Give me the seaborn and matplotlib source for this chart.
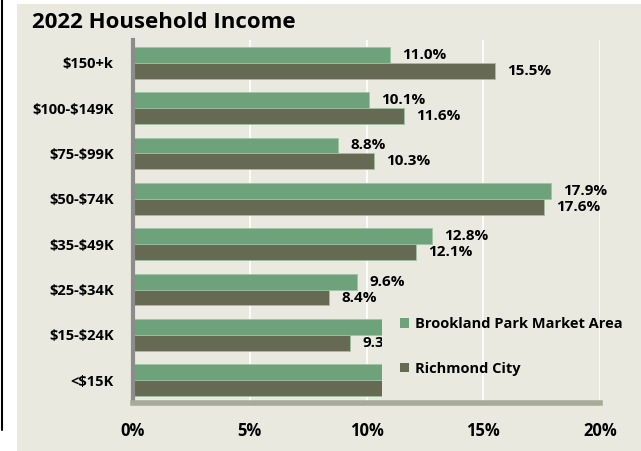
import pandas as pd
import matplotlib
matplotlib.use("Agg")
import matplotlib.pyplot as plt
import seaborn as sns
from matplotlib.patches import Rectangle, Patch
from matplotlib.lines import Line2D
from matplotlib.transforms import Bbox, TransformedBbox

# Data
categories = ["$150+k", "$100-$149K", "$75-$99K", "$50-$74K",
              "$35-$49K", "$25-$34K", "$15-$24K", "<$15K"]
brookland = [11.0, 10.1, 8.8, 17.9, 12.8, 9.6, 12.4, 17.4]   # last two hidden behind legend
richmond = [15.5, 11.6, 10.3, 17.6, 12.1, 8.4, 9.3, 15.2]     # last one hidden behind legend
series = ["Brookland Park Market Area", "Richmond City"]
xticks = [0, 5, 10, 15, 20]
xtick_labels = ["0%", "5%", "10%", "15%", "20%"]

green = "#6EA27A"
olive = "#666A53"
beige = "#EAE9DF"

df = pd.DataFrame({
    "Income": categories * 2,
    "Share": brookland + richmond,
    "Area": [series[0]] * len(categories) + [series[1]] * len(categories),
})

sns.set_style("white")
plt.rcParams["font.family"] = ["Open Sans", "DejaVu Sans"]
plt.rcParams["font.weight"] = "bold"
plt.rcParams["text.parse_math"] = False
plt.rcParams["text.color"] = "black"
plt.rcParams["xtick.labelcolor"] = "black"
plt.rcParams["ytick.labelcolor"] = "black"

fig = plt.figure(figsize=(6.41, 4.51), dpi=100)
fig.patch.set_facecolor("white")
fig.patches.append(Rectangle((17 / 641, 0), 1, 1 - 4 / 451, transform=fig.transFigure,
                             facecolor=beige, edgecolor="none", zorder=-10))
fig.lines.append(Line2D([1.5 / 641, 1.5 / 641], [1 - 430 / 451, 1], transform=fig.transFigure,
                        color="black", lw=1.5))

ax = fig.add_axes([133 / 641, 1 - 403 / 451, (600 - 133) / 641, (403 - 40) / 451])
ax.set_facecolor(beige)

sns.barplot(data=df, y="Income", x="Share", hue="Area", order=categories,
            hue_order=series, palette=[green, olive], orient="h", width=0.7,
            saturation=1, edgecolor="#9FC2A4", linewidth=0.6, legend=False, ax=ax, zorder=2)

ax.set_xlim(0, 20)
ax.set_ylim(len(categories) - 0.5, -0.5)
ax.set_xticks(xticks)
ax.set_xticklabels(xtick_labels, fontsize=12, fontweight="bold")
ax.set_xlabel("")
ax.set_ylabel("")
ax.tick_params(axis="y", which="major", length=0, pad=14, labelsize=10.5)
ax.set_yticks([i - 0.5 for i in range(len(categories) + 1)], minor=True)
ax.tick_params(axis="y", which="minor", length=3, width=3, color="#8C8C8C", direction="out")
ax.tick_params(axis="x", length=3, width=4, color="#A8AB98", direction="out", pad=11)
for lab in ax.get_yticklabels():
    lab.set_fontweight("bold")

ax.grid(axis="x", color="white", lw=1.2, zorder=0)
ax.set_axisbelow(True)
for s in ["top", "right"]:
    ax.spines[s].set_visible(False)
ax.spines["left"].set_color("#8C8C8C")
ax.spines["left"].set_linewidth(3)
ax.spines["bottom"].set_color("#A8AB98")
ax.spines["bottom"].set_linewidth(4)

# the legend box hides the bars of the two lowest rows past ~10.65%
cut = 10.65
clip = TransformedBbox(Bbox([[-1, -1], [cut, len(categories)]]), ax.transData)
for cont in ax.containers:
    texts = ax.bar_label(cont, fmt="%.1f%%", padding=9, fontsize=11, fontweight="bold")
    for i, (bar, t) in enumerate(zip(cont.patches, texts)):
        if i >= 6:
            bar.set_clip_box(clip)
            t.set_clip_box(clip)
            t.set_clip_on(True)
            if bar.get_width() > cut:
                t.set_visible(False)

handles = [Patch(facecolor=green, edgecolor="none"), Patch(facecolor=olive, edgecolor="none")]
fig.legend(handles, series, loc="center left", bbox_to_anchor=(400 / 641, 1 - 346.5 / 451),
           frameon=False, borderpad=0, borderaxespad=0, handlelength=0.6, handleheight=0.6,
           handletextpad=0.4, labelspacing=2.1, prop={"size": 10.5, "weight": "bold"})

fig.text(32 / 641, 1 - 23 / 451, "2022 Household Income", fontsize=16,
         fontweight="bold", va="center", ha="left")

fig.savefig("out.png", dpi=100)
